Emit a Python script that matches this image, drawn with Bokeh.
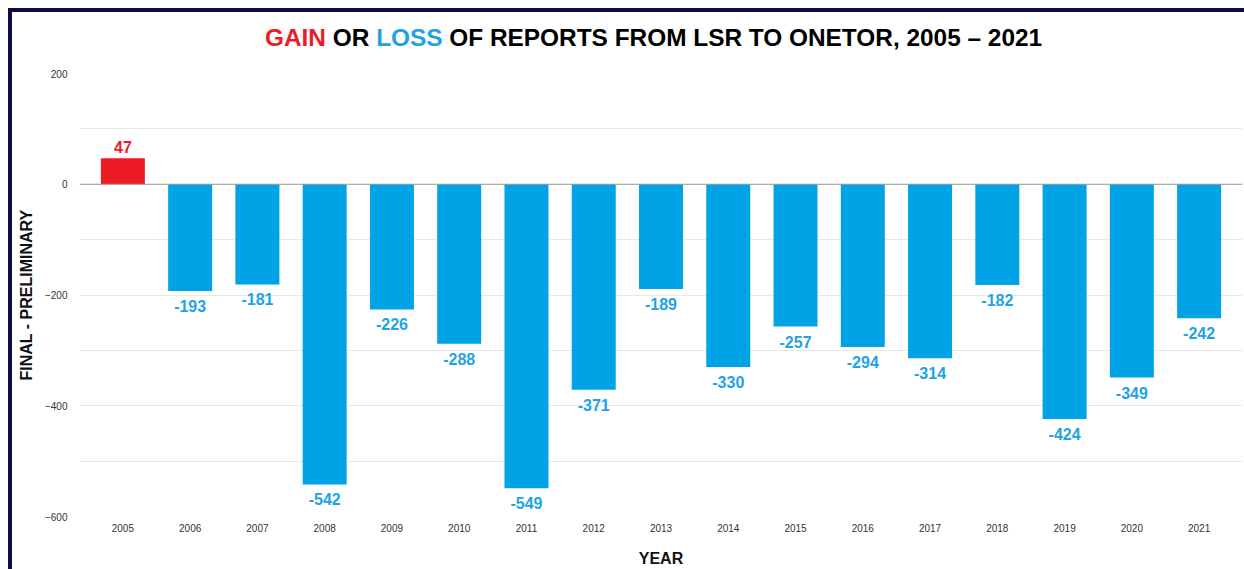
from bokeh.plotting import figure
from bokeh.models import (ColumnDataSource, FactorRange, FixedTicker, Span,
                          Range1d, Div)
from bokeh.layouts import row, column
from bokeh.core.properties import value
from bokeh.embed import file_html
from bokeh.resources import INLINE

years = ["2005", "2006", "2007", "2008", "2009", "2010", "2011", "2012", "2013",
         "2014", "2015", "2016", "2017", "2018", "2019", "2020", "2021"]
diffs = [47, -193, -181, -542, -226, -288, -549, -371, -189, -330, -257, -294,
         -314, -182, -424, -349, -242]
y_ticks = [-600, -400, -200, 0, 200]
grid_ticks = [-600, -500, -400, -300, -200, -100, 0, 100, 200]

RED = "#ED1C24"
BLUE = "#00A3E6"
BLUE_TXT = "#1FA3E3"
NAVY = "#0B0B45"
FONT = "Liberation Sans"

src = ColumnDataSource(dict(
    year=years,
    diff=diffs,
    label=[str(d) for d in diffs],
    color=[RED if d >= 0 else BLUE for d in diffs],
    tcolor=[RED if d >= 0 else BLUE_TXT for d in diffs],
    yoff=[-11 if d >= 0 else 15 for d in diffs],
))

p = figure(width=1232, height=508, output_backend="svg", toolbar_location=None,
           x_range=FactorRange(factors=years, range_padding=0.01706),
           y_range=Range1d(-600, 200), title=None,
           min_border_left=67, min_border_right=2, min_border_top=12,
           min_border_bottom=40, margin=0)
p.outline_line_color = None
p.background_fill_color = "white"
p.border_fill_color = "white"

p.vbar(x="year", top="diff", bottom=0, width=0.654, source=src,
       fill_color="color", line_color=None)
p.text(x="year", y="diff", text="label", source=src, text_color="tcolor",
       text_font=value(FONT), text_font_size="16px", text_font_style="bold",
       text_align="center", text_baseline="middle", y_offset="yoff")

p.add_layout(Span(location=0, dimension="width", line_color="#9a9a9a",
                  line_width=1.2))

# grid
p.xgrid.grid_line_color = None
p.ygrid.ticker = FixedTicker(ticks=grid_ticks)
p.ygrid.grid_line_color = "#e8e8e8"
p.ygrid.grid_line_width = 1

# y axis
p.yaxis.ticker = FixedTicker(ticks=y_ticks)
p.yaxis.axis_line_color = None
p.yaxis.major_tick_line_color = None
p.yaxis.minor_tick_line_color = None
p.yaxis.major_label_text_font = FONT
p.yaxis.major_label_text_font_size = "10px"
p.yaxis.major_label_text_color = "#333333"
p.yaxis.major_label_standoff = 6
p.yaxis.axis_label = "FINAL - PRELIMINARY"
p.yaxis.axis_label_text_font = FONT
p.yaxis.axis_label_text_font_size = "16px"
p.yaxis.axis_label_text_font_style = "bold"
p.yaxis.axis_label_text_color = "#111111"
p.yaxis.axis_label_standoff = 7

# x axis
p.xaxis.axis_line_color = None
p.xaxis.major_tick_line_color = None
p.xaxis.minor_tick_line_color = None
p.xaxis.major_label_text_font = FONT
p.xaxis.major_label_text_font_size = "10px"
p.xaxis.major_label_text_color = "#333333"
p.xaxis.major_label_standoff = 1
p.xaxis.axis_label = "YEAR"
p.xaxis.axis_label_text_font = FONT
p.xaxis.axis_label_text_font_size = "16px"
p.xaxis.axis_label_text_font_style = "bold"
p.xaxis.axis_label_text_color = "#111111"
p.xaxis.axis_label_standoff = 15

title_html = (
    '<div style="font-family:\'Liberation Sans\',Arial,sans-serif;font-size:24.4px;'
    'font-weight:bold;color:#000;padding-left:253px;padding-top:12px;'
    'white-space:nowrap;line-height:28px;margin:0">'
    '<span style="color:%s">GAIN</span> OR '
    '<span style="color:%s">LOSS</span> OF REPORTS FROM LSR TO ONETOR, '
    '2005 \u2013 2021</div>' % (RED, BLUE_TXT)
)
title_div = Div(text=title_html, width=1232, height=49, margin=0)
top_bar = Div(text="", width=1232, height=4, margin=0,
              styles={"background-color": NAVY})
left_bar = Div(text="", width=4, height=561, margin=0,
               styles={"background-color": NAVY})

layout = row(left_bar, column(top_bar, title_div, p, spacing=0, margin=0),
             spacing=0, margin=(8, 0, 0, 8))

open("out.html", "w").write(file_html(layout, INLINE))
